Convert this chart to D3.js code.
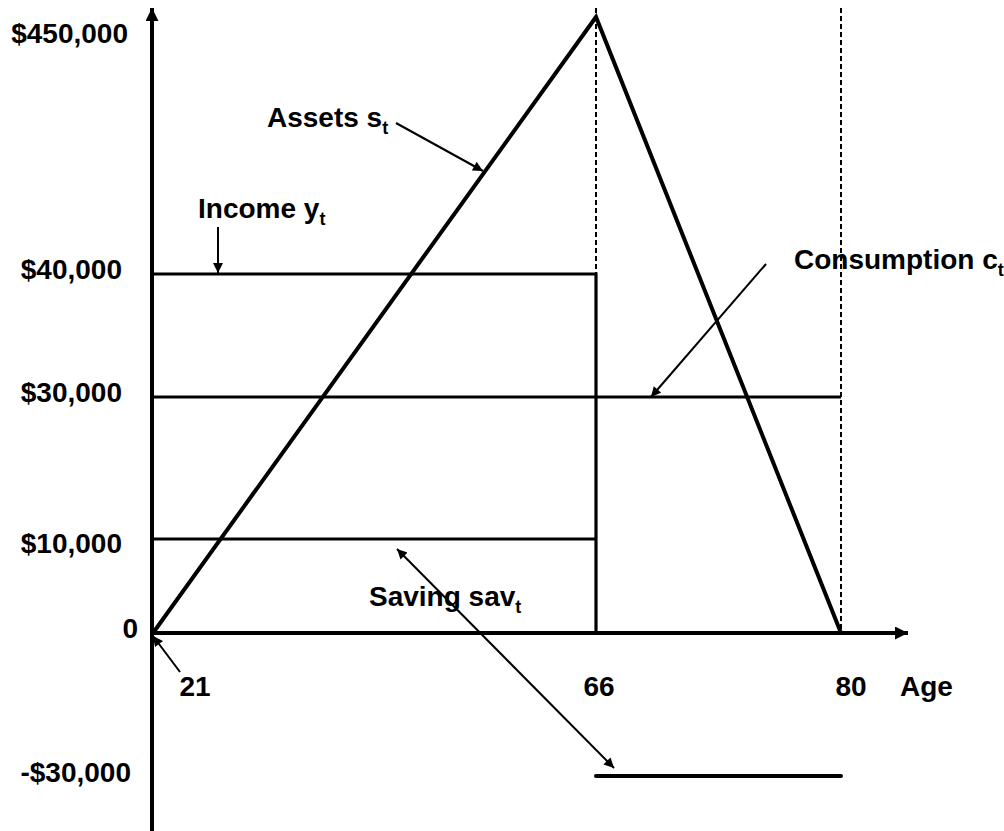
<!DOCTYPE html>
<meta charset="utf-8">
<script src="https://d3js.org/d3.v7.min.js"></script>
<style>
  body { margin: 0; background: #fff; }
  text { font-family: "Liberation Sans", Arial, sans-serif; font-weight: bold; fill: #000; }
</style>
<div id="my_dataviz"></div>
<script>

// ages where something changes (start work, retire, death)
var ages = [21, 66, 80];

// income: earn until 66, then nothing
var incomeAges = [21, 66, 66];
var incomeVals = [40000, 40000, 0];

// consumption is flat over the whole life
var consAges = [21, 80];
var consVals = [30000, 30000];

// saving: positive while working, negative in retirement
var saveWorkAges = [21, 66];
var saveWorkVals = [10000, 10000];
var saveRetAges = [66, 80];
var saveRetVals = [-30000, -30000];

// assets build up then run down
var assetAges = [21, 66, 80];
var assetVals = [0, 450000, 0];

// y tick labels
var yTicks = [450000, 40000, 30000, 10000, 0, -30000];
var yTickLabels = ["$450,000", "$40,000", "$30,000", "$10,000", "0", "-$30,000"];
var xTickLabels = ["21", "66", "80"];

var width = 1004, height = 831;

var svg = d3.select("#my_dataviz")
  .append("svg")
    .attr("width", width)
    .attr("height", height);

// the diagram is schematic, so both scales are piecewise
var x = d3.scaleLinear()
  .domain([21, 66, 80])
  .range([153, 596, 841]);

var y = d3.scaleLinear()
  .domain([-30000, 0, 10000, 30000, 40000, 450000])
  .range([776, 633, 539, 397, 274, 17]);

var line = d3.line()
  .x(function(d) { return x(d[0]); })
  .y(function(d) { return y(d[1]); });

function pairs(a, b) { return a.map(function(v, i) { return [v, b[i]]; }); }

var defs = svg.append("defs");
function marker(id, w, h) {
  defs.append("marker")
    .attr("id", id)
    .attr("viewBox", "0 0 10 10")
    .attr("refX", 10).attr("refY", 5)
    .attr("markerUnits", "userSpaceOnUse")
    .attr("markerWidth", w).attr("markerHeight", h)
    .attr("orient", "auto-start-reverse")
    .append("path")
      .attr("d", "M0,0 L10,5 L0,10 z")
      .attr("fill", "#000");
}
marker("axisHead", 14, 13);
marker("head", 12, 10);

// dashed guides at 66 and 80
svg.append("g").selectAll("line")
  .data([66, 80])
  .enter().append("line")
    .attr("x1", function(d) { return x(d); })
    .attr("x2", function(d) { return x(d); })
    .attr("y1", 8)
    .attr("y2", y(0))
    .attr("stroke", "#000")
    .attr("stroke-width", 2)
    .attr("stroke-dasharray", "5,3");

// axes
svg.append("line")
  .attr("x1", 152).attr("x2", 152)
  .attr("y1", height).attr("y2", 8)
  .attr("stroke", "#000").attr("stroke-width", 4)
  .attr("marker-end", "url(#axisHead)");
svg.append("line")
  .attr("x1", 152).attr("x2", 908)
  .attr("y1", y(0)).attr("y2", y(0))
  .attr("stroke", "#000").attr("stroke-width", 4)
  .attr("marker-end", "url(#axisHead)");

// series
var series = [
  {pts: pairs(incomeAges, incomeVals), w: 3.2},
  {pts: pairs(consAges, consVals), w: 3.2},
  {pts: pairs(saveWorkAges, saveWorkVals), w: 3.2},
  {pts: pairs(saveRetAges, saveRetVals), w: 4},
  {pts: pairs(assetAges, assetVals), w: 4}
];
svg.append("g").selectAll("path")
  .data(series)
  .enter().append("path")
    .attr("d", function(d) { return line(d.pts); })
    .attr("fill", "none")
    .attr("stroke", "#000")
    .attr("stroke-width", function(d) { return d.w; })
    .attr("stroke-linecap", function(d, i) { return i === 3 ? "round" : "butt"; })
    .attr("stroke-linejoin", "miter");

// y tick labels (hand placed like the original slide)
var yNudge = {450000: [128, 26], 40000: [122, 5], 30000: [122, 5], 10000: [122, 14], 0: [138, 5], "-30000": [131, 6]};
svg.append("g").selectAll("text")
  .data(yTicks)
  .enter().append("text")
    .attr("x", function(d) { return yNudge[d][0]; })
    .attr("y", function(d) { return y(d) + yNudge[d][1]; })
    .attr("text-anchor", "end")
    .style("font-size", "28px")
    .text(function(d, i) { return yTickLabels[i]; });

// x tick labels
var xNudge = [42, 3, 10];
svg.append("g").selectAll("text")
  .data(ages)
  .enter().append("text")
    .attr("x", function(d, i) { return x(d) + xNudge[i]; })
    .attr("y", 696)
    .attr("text-anchor", "middle")
    .style("font-size", "28px")
    .text(function(d, i) { return xTickLabels[i]; });

svg.append("text")
  .attr("x", 900).attr("y", 696)
  .style("font-size", "28px")
  .text("Age");

// annotation labels with subscripts
var notes = [
  {x: 267, y: 127, main: "Assets s", sub: "t"},
  {x: 198, y: 218, main: "Income y", sub: "t"},
  {x: 794, y: 269, main: "Consumption c", sub: "t"},
  {x: 369, y: 606, main: "Saving sav", sub: "t"}
];
var nt = svg.append("g").selectAll("text")
  .data(notes)
  .enter().append("text")
    .attr("x", function(d) { return d.x; })
    .attr("y", function(d) { return d.y; })
    .style("font-size", "28px");
nt.append("tspan").text(function(d) { return d.main; });
nt.append("tspan")
  .attr("dy", 7)
  .style("font-size", "18px")
  .text(function(d) { return d.sub; });

// pointer arrows
var arrows = [
  {x1: 396, y1: 123, x2: 483, y2: 171, both: false},
  {x1: 218, y1: 227, x2: 218, y2: 273, both: false},
  {x1: 766, y1: 264, x2: 651, y2: 397, both: false},
  {x1: 397, y1: 549, x2: 614, y2: 768, both: true},
  {x1: 180, y1: 672, x2: 153, y2: 636, both: false}
];
svg.append("g").selectAll("line")
  .data(arrows)
  .enter().append("line")
    .attr("x1", function(d) { return d.x1; })
    .attr("y1", function(d) { return d.y1; })
    .attr("x2", function(d) { return d.x2; })
    .attr("y2", function(d) { return d.y2; })
    .attr("stroke", "#000")
    .attr("stroke-width", 2)
    .attr("marker-end", "url(#head)")
    .attr("marker-start", function(d) { return d.both ? "url(#head)" : null; });

</script>
